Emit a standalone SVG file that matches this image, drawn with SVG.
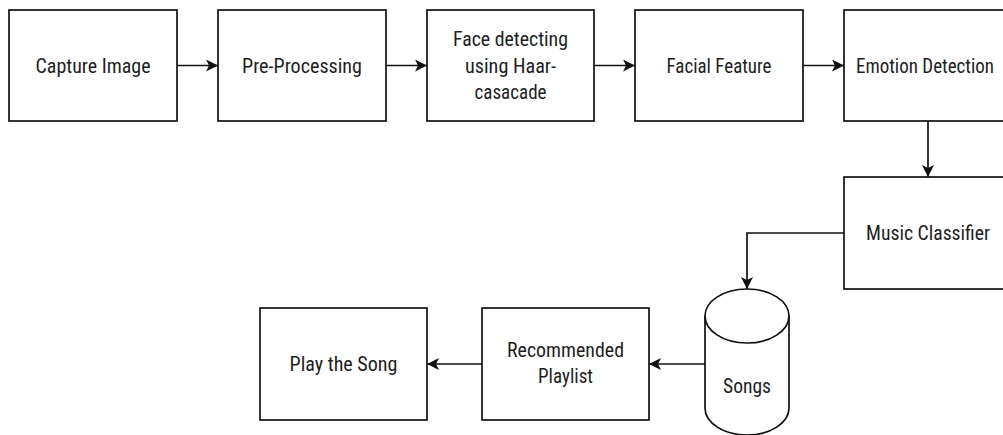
<svg xmlns="http://www.w3.org/2000/svg" width="1003" height="435" viewBox="0 0 1003 435">
  <style>
    .box { fill: #ffffff; stroke: #111111; stroke-width: 1.7; }
    .lbl { font-family: "Liberation Sans Narrow", "Arial Narrow", "Roboto Condensed", "Liberation Sans", sans-serif; font-size: 20.5px; fill: #1e1e1e; text-anchor: middle; }
    .edge { fill: none; stroke: #111111; stroke-width: 1.7; }
  </style>
  <defs>
    <marker id="arr" markerUnits="userSpaceOnUse" markerWidth="14" markerHeight="14" refX="12" refY="6" orient="auto">
      <path d="M0,0 L12,6 L0,12 L3,6 Z" fill="#111111"/>
    </marker>
  </defs>
  <rect width="1003" height="435" fill="#ffffff"/>

  <g id="connectors">
    <path class="edge" d="M177,65.5 L218,65.5" marker-end="url(#arr)"/>
    <path class="edge" d="M386,65.5 L427,65.5" marker-end="url(#arr)"/>
    <path class="edge" d="M594,65.5 L635,65.5" marker-end="url(#arr)"/>
    <path class="edge" d="M803,65.5 L844,65.5" marker-end="url(#arr)"/>
    <path class="edge" d="M928,121 L928,177" marker-end="url(#arr)"/>
    <path class="edge" d="M844,233 L747,233 L747,289" marker-end="url(#arr)"/>
    <path class="edge" d="M705,364 L649,364" marker-end="url(#arr)"/>
    <path class="edge" d="M482,364 L427,364" marker-end="url(#arr)"/>
  </g>

  <g id="capture-image">
    <rect class="box" x="9" y="10" width="168" height="111"/>
    <text class="lbl" x="93" y="72.5" textLength="115" lengthAdjust="spacingAndGlyphs">Capture Image</text>
  </g>
  <g id="pre-processing">
    <rect class="box" x="218" y="10" width="168" height="111"/>
    <text class="lbl" x="302" y="72.5" textLength="120" lengthAdjust="spacingAndGlyphs">Pre-Processing</text>
  </g>
  <g id="face-detecting">
    <rect class="box" x="427" y="10" width="167" height="111"/>
    <text class="lbl" x="510.5" y="46" textLength="115" lengthAdjust="spacingAndGlyphs">Face detecting</text>
    <text class="lbl" x="510.5" y="72.5" textLength="91" lengthAdjust="spacingAndGlyphs">using Haar-</text>
    <text class="lbl" x="510.5" y="99" textLength="72" lengthAdjust="spacingAndGlyphs">casacade</text>
  </g>
  <g id="facial-feature">
    <rect class="box" x="635" y="10" width="168" height="111"/>
    <text class="lbl" x="719" y="72.5" textLength="105" lengthAdjust="spacingAndGlyphs">Facial Feature</text>
  </g>
  <g id="emotion-detection">
    <rect class="box" x="844" y="10" width="168" height="111"/>
    <text class="lbl" x="925" y="72.5" textLength="138" lengthAdjust="spacingAndGlyphs">Emotion Detection</text>
  </g>
  <g id="music-classifier">
    <rect class="box" x="844" y="177" width="168" height="112"/>
    <text class="lbl" x="928" y="240" textLength="124" lengthAdjust="spacingAndGlyphs">Music Classifier</text>
  </g>
  <g id="songs">
    <path class="box" d="M705,316 A42,27 0 0 1 789,316 L789,408 A42,27 0 0 1 705,408 Z"/>
    <path class="edge" d="M705,316 A42,27 0 0 0 789,316"/>
    <text class="lbl" x="747" y="393" textLength="48" lengthAdjust="spacingAndGlyphs">Songs</text>
  </g>
  <g id="recommended-playlist">
    <rect class="box" x="482" y="308" width="167" height="112"/>
    <text class="lbl" x="565.5" y="357" textLength="117" lengthAdjust="spacingAndGlyphs">Recommended</text>
    <text class="lbl" x="565.5" y="383" textLength="55" lengthAdjust="spacingAndGlyphs">Playlist</text>
  </g>
  <g id="play-the-song">
    <rect class="box" x="260" y="308" width="167" height="112"/>
    <text class="lbl" x="343.5" y="371" textLength="108" lengthAdjust="spacingAndGlyphs">Play the Song</text>
  </g>
</svg>
